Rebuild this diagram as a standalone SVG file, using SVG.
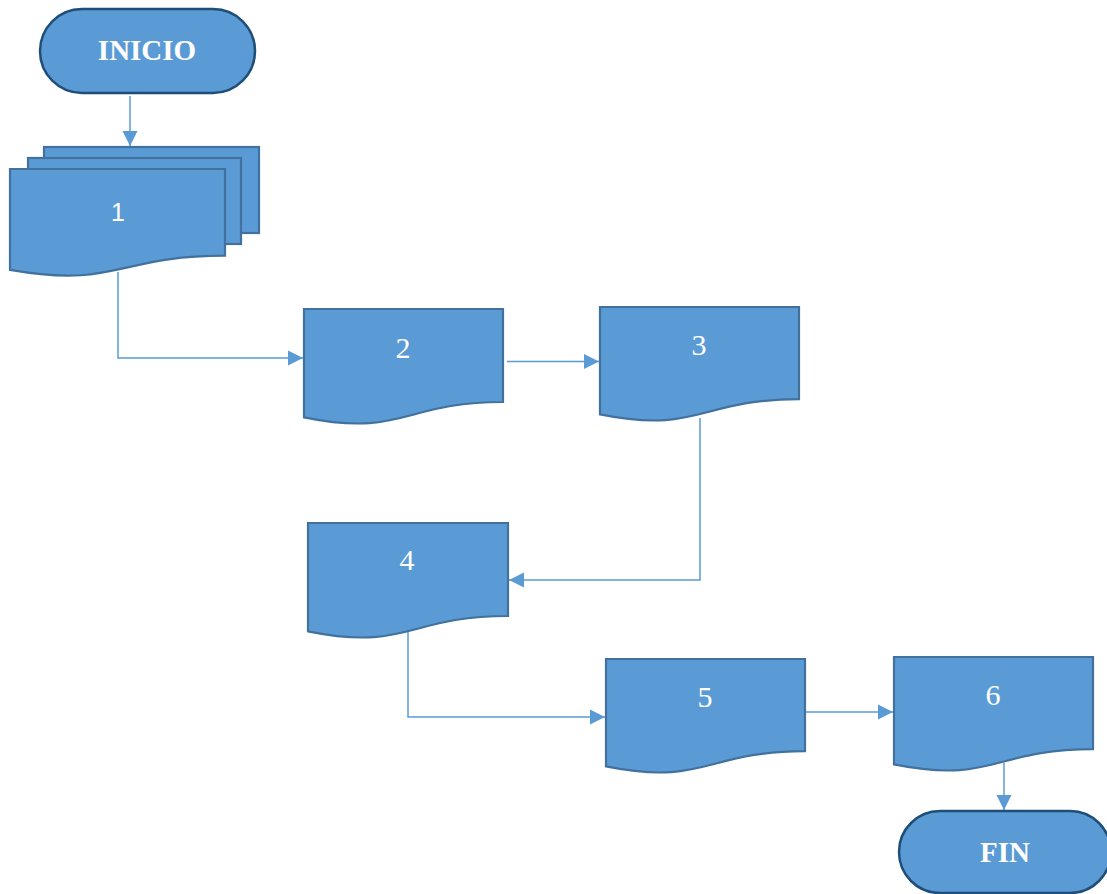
<svg xmlns="http://www.w3.org/2000/svg" width="1107" height="894" viewBox="0 0 1107 894">
  <style>
    .term { fill: #5b9bd5; stroke: #1f4e79; stroke-width: 2.5; }
    .doc { fill: #5b9bd5; stroke: #41719c; stroke-width: 2.2; }
    .conn { fill: none; stroke: #5b9bd5; stroke-width: 1.5; }
    .tlabel { font-family: "Liberation Serif", "Times New Roman", serif; font-weight: bold; font-size: 29px; fill: #ffffff; text-anchor: middle; }
    .dlabel { font-family: "Liberation Serif", "Times New Roman", serif; font-size: 30px; fill: #ffffff; text-anchor: middle; }
    .slabel { font-family: "Liberation Sans", Arial, sans-serif; font-size: 25px; fill: #ffffff; text-anchor: middle; }
  </style>
  <defs>
    <marker id="arrow" markerUnits="userSpaceOnUse" markerWidth="16" markerHeight="16" viewBox="0 0 16 16" refX="15" refY="8" orient="auto">
      <path d="M0,0.5 L15,8 L0,15.5 Z" fill="#5b9bd5"/>
    </marker>
  </defs>

  <g id="connectors">
    <path class="conn" d="M130,96 V146" marker-end="url(#arrow)"/>
    <path class="conn" d="M118,272 V358 H303" marker-end="url(#arrow)"/>
    <path class="conn" d="M507,361.5 H599" marker-end="url(#arrow)"/>
    <path class="conn" d="M700,418 V580 H509" marker-end="url(#arrow)"/>
    <path class="conn" d="M408,632 V717 H605" marker-end="url(#arrow)"/>
    <path class="conn" d="M806,712 H893" marker-end="url(#arrow)"/>
    <path class="conn" d="M1004,763 V810" marker-end="url(#arrow)"/>
  </g>

  <g id="inicio">
    <rect class="term" x="40" y="9" width="215" height="84" rx="42" ry="42"/>
    <text class="tlabel" x="147" y="60">INICIO</text>
  </g>

  <g id="node1">
    <rect class="doc" x="44" y="147" width="215" height="86"/>
    <rect class="doc" x="28" y="158" width="213" height="86"/>
    <path class="doc" d="M10,169 H225 V255.6 C117.5,255.6 117.5,288.6 10,269.9 Z"/>
    <text class="slabel" x="118" y="221">1</text>
  </g>

  <g id="node2">
    <path class="doc" d="M304,309 H503 V402 C403.5,402 403.5,437.5 304,417.3 Z"/>
    <text class="dlabel" x="403" y="358">2</text>
  </g>

  <g id="node3">
    <path class="doc" d="M600,307 H799 V399.2 C699.5,399.2 699.5,434.4 600,414.4 Z"/>
    <text class="dlabel" x="699" y="355">3</text>
  </g>

  <g id="node4">
    <path class="doc" d="M308,523 H508 V616 C408,616 408,651.5 308,631.3 Z"/>
    <text class="dlabel" x="407" y="570">4</text>
  </g>

  <g id="node5">
    <path class="doc" d="M606,659 H805 V751.2 C705.5,751.2 705.5,786.4 606,766.4 Z"/>
    <text class="dlabel" x="705" y="707">5</text>
  </g>

  <g id="node6">
    <path class="doc" d="M894,657 H1093 V749.2 C993.5,749.2 993.5,784.4 894,764.4 Z"/>
    <text class="dlabel" x="993" y="705">6</text>
  </g>

  <g id="fin">
    <rect class="term" x="899" y="811" width="212" height="82" rx="41" ry="41"/>
    <text class="tlabel" x="1005" y="862">FIN</text>
  </g>
</svg>
